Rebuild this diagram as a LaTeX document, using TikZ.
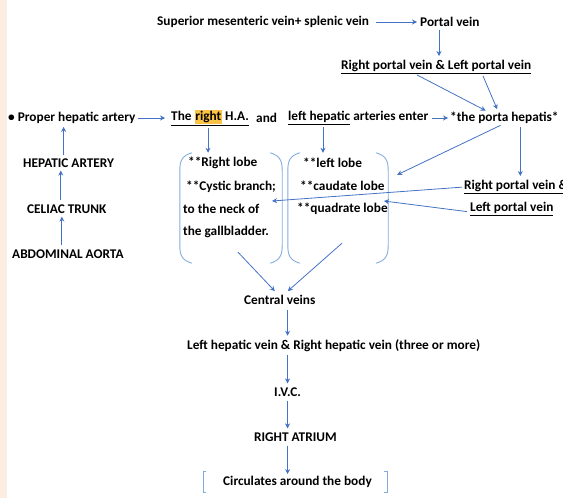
\documentclass[tikz,border=0pt]{standalone}
\usepackage{fontspec}
\setmainfont{Carlito}
\usepackage{xcolor}
\definecolor{flow}{RGB}{68,114,196}
\definecolor{parenblue}{RGB}{130,172,222}
\definecolor{marker}{RGB}{250,195,70}
\definecolor{strip}{RGB}{253,236,226}
\usepackage{tikz}
\usetikzlibrary{arrows.meta, positioning, calc}
\newcommand{\hilite}[1]{{\setlength{\fboxsep}{0.8pt}\colorbox{marker}{#1}}}

\begin{document}
\begin{tikzpicture}[
        x=1pt, y=-1pt,
        txt/.style={inner sep=0pt, anchor=west, font=\bfseries\fontsize{13.3}{15}\selectfont},
        lobebox/.style={minimum width=#1, minimum height=110pt, inner sep=0pt},
        arrow/.style={-{Stealth[length=5pt, width=5pt]}, flow, line width=0.8pt},
        parenline/.style={parenblue, line width=0.9pt}
    ]
        \useasboundingbox (0,0) rectangle (563,498);
        \fill[strip] (0,0) rectangle (7,498);

        % portal side
        \node[txt] (sup) at (157,22) {Superior mesenteric vein+ splenic vein};
        \node[txt] (portal) at (420,22) {Portal vein};
        \node[txt] (rlv) at (341,67) {\underline{Right portal vein \& Left portal vein}};

        % arterial row
        \node[txt] (proper) at (8,118) {\textbullet\ Proper hepatic artery};
        \node[txt] (theright) at (171,118) {\underline{The \hilite{right} H.A.}};
        \node[txt] (and) at (256,118) {and};
        \node[txt] (leftha) at (288,118) {\underline{left hepatic} arteries enter};
        \node[txt] (porta) at (450,118) {*the porta hepatis*};

        % left column
        \node[txt] (hepart) at (23,163) {HEPATIC ARTERY};
        \node[txt] (celiac) at (27,209) {CELIAC TRUNK};
        \node[txt] (aorta) at (12,254) {ABDOMINAL AORTA};

        % lobes
        \node[lobebox=102pt] (rbox) at (231,208) {};
        \node[lobebox=100pt] (lbox) at (338,208) {};
        \node[txt] (rl1) at (188,163) {**Right lobe};
        \node[txt] (rl2) at (186,187) {**Cystic branch;};
        \node[txt] (rl3) at (183,209) {to the neck of};
        \node[txt] (rl4) at (183,232) {the gallbladder.};
        \node[txt] (ll1) at (303,163) {**left lobe};
        \node[txt] (ll2) at (300,186) {**caudate lobe};
        \node[txt] (ll3) at (297,209) {**quadrate lobe};
        \node[txt] (rpv) at (464,187) {\underline{Right portal vein \&}};
        \node[txt] (lpv) at (470,209) {\underline{Left portal vein}};

        % drainage
        \node[txt] (central) at (244,300) {Central veins};
        \node[txt] (hepv) at (187,346) {Left hepatic vein \& Right hepatic vein (three or more)};
        \node[txt] (ivc) at (274,392) {I.V.C.};
        \node[txt] (atrium) at (254,437) {RIGHT ATRIUM};
        \node[txt] (circ) at (223,482) {Circulates around the body};

        % brackets round the lobes
        \foreach \b in {rbox, lbox} {
            \draw[parenline] ([xshift=12pt]\b.north west) .. controls ([xshift=2pt,yshift=-3pt]\b.north west) and ([yshift=-8pt]\b.north west) .. ([yshift=-18pt]\b.north west)
                -- ([yshift=18pt]\b.south west) .. controls ([yshift=8pt]\b.south west) and ([xshift=2pt,yshift=3pt]\b.south west) .. ([xshift=12pt]\b.south west);
            \draw[parenline] ([xshift=-12pt]\b.north east) .. controls ([xshift=-2pt,yshift=-3pt]\b.north east) and ([yshift=-8pt]\b.north east) .. ([yshift=-18pt]\b.north east)
                -- ([yshift=18pt]\b.south east) .. controls ([yshift=8pt]\b.south east) and ([xshift=-2pt,yshift=3pt]\b.south east) .. ([xshift=-12pt]\b.south east);
        }
        \draw[parenline] ([xshift=-17pt,yshift=5pt]circ.north west) -- ([xshift=-20pt,yshift=5pt]circ.north west)
            -- ([xshift=-20pt,yshift=-5pt]circ.south west) -- ([xshift=-17pt,yshift=-5pt]circ.south west);
        \draw[parenline] ([xshift=12pt,yshift=5pt]circ.north east) -- ([xshift=15pt,yshift=5pt]circ.north east)
            -- ([xshift=15pt,yshift=-5pt]circ.south east) -- ([xshift=12pt,yshift=-5pt]circ.south east);

        \draw[arrow, shorten <=7pt, shorten >=3pt] (sup.east) -- (portal.west);
        \draw[arrow, shorten <=3pt, shorten >=4pt] ([xshift=19pt]portal.south west) -- ([xshift=19pt]portal.south west |- rlv.north);
        \draw[arrow, shorten <=2pt, shorten >=3pt] ([xshift=-21pt]rlv.south) -- ([xshift=-16pt]porta.north);
        \draw[arrow, shorten <=2pt, shorten >=3pt] ([xshift=46pt]rlv.south) -- ([xshift=-6pt]porta.north);

        \draw[arrow, shorten <=2pt, shorten >=6pt] (proper.east) -- (theright.west);
        \draw[arrow, shorten <=3pt, shorten >=2pt] (leftha.east) -- (porta.west);
        \draw[arrow, shorten <=3pt, shorten >=3pt] ([xshift=-5pt]hepart.north) -- ([xshift=-5pt]hepart.north |- proper.south);
        \draw[arrow, shorten <=4pt, shorten >=3pt] ([xshift=-6pt]celiac.north) -- ([xshift=-6pt]celiac.north |- hepart.south);
        \draw[arrow, shorten <=4pt, shorten >=3pt] ([xshift=-6pt]aorta.north) -- ([xshift=-6pt]aorta.north |- celiac.south);

        \draw[arrow, shorten <=2pt] ([xshift=-2pt]theright.south) -- ([xshift=-2pt]theright.south |- rbox.north);
        \draw[arrow, shorten <=2pt] ([xshift=35pt]leftha.south west) -- ([xshift=35pt]leftha.south west |- lbox.north);
        \draw[arrow, shorten <=3pt] ([xshift=-1pt]porta.south) -- ([xshift=9pt,yshift=-22pt]lbox.north east);
        \draw[arrow, shorten <=3pt, shorten >=4pt] ([xshift=16pt]porta.south) -- ([xshift=16pt]porta.south |- rpv.north);
        \draw[arrow, shorten <=2pt] (rpv.west) -- ([xshift=-4pt,yshift=-14pt]rl2.east);
        \draw[arrow, shorten <=3pt] ([yshift=-3pt]lpv.west) -- ([xshift=-4pt,yshift=8pt]ll3.east);

        \draw[arrow] ([xshift=7pt,yshift=11pt]rbox.south) -- ([xshift=-5pt,yshift=4pt]central.north);
        \draw[arrow] ([xshift=4pt,yshift=20pt]lbox.south) -- ([xshift=8pt,yshift=4pt]central.north);
        \draw[arrow, shorten <=5pt, shorten >=4pt] (central.south -| ivc.south) -- (hepv.north -| ivc.north);
        \draw[arrow, shorten <=3pt, shorten >=4pt] (hepv.south -| ivc.south) -- (ivc.north);
        \draw[arrow, shorten <=4pt, shorten >=4pt] (ivc.south) -- (ivc.south |- atrium.north);
        \draw[arrow, shorten <=4pt, shorten >=2pt] (ivc.south |- atrium.south) -- (ivc.south |- circ.north);
    \end{tikzpicture}
\end{document}
